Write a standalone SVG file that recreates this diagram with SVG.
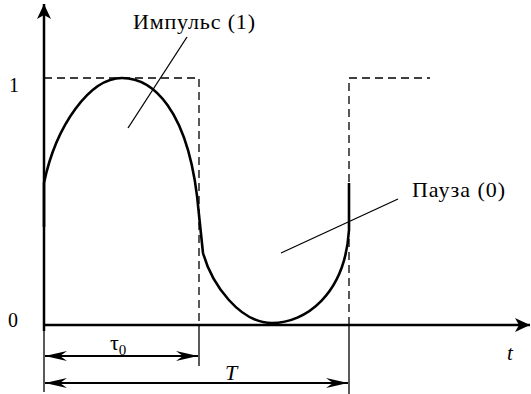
<svg xmlns="http://www.w3.org/2000/svg" width="531" height="394" viewBox="0 0 531 394">
<style>
text{font-family:"Liberation Serif","DejaVu Serif",serif;fill:#000}
.i{font-style:italic}
.axis{stroke:#000;stroke-width:2.5;fill:none}
.thin{stroke:#000;stroke-width:1.3;fill:none}
.dim{stroke:#000;stroke-width:1.8;fill:none}
.dash{stroke:#000;stroke-width:1.3;fill:none;stroke-dasharray:8,5}
.curve{stroke:#000;stroke-width:2.6;fill:none;stroke-linejoin:round}
</style>
<defs>
<marker id="ah" markerUnits="userSpaceOnUse" markerWidth="24" markerHeight="16" viewBox="-16 -8 17 16" refX="0" refY="0" orient="auto">
<path d="M0,0 L-15,-7 L-11,0 L-15,7 Z" fill="#000"/>
</marker>
<marker id="dh" markerUnits="userSpaceOnUse" markerWidth="24" markerHeight="12" viewBox="-23 -6 24 12" refX="0" refY="0" orient="auto-start-reverse">
<path d="M0,0 L-22,-5 L-15,0 L-22,5 Z" fill="#000"/>
</marker>
</defs>
<g id="axes">
<line class="axis" x1="44" y1="331" x2="44" y2="4" marker-end="url(#ah)"/>
<line class="axis" x1="43" y1="325" x2="530" y2="325" marker-end="url(#ah)"/>
</g>
<g id="levels">
<polyline class="dash" points="44,78 199,78 199,325"/>
<polyline class="dash" points="349,325 349,78 430,78"/>
</g>
<g id="signal">
<path class="curve" d="M44,227 L44,183 C56,125 90,78 122,78 C150,78 190,105 199,215 L203,253 C212,285 240,323 272,323 C305,323 345,295 349,230 L349,183"/>
</g>
<g id="connectors">
<line class="thin" x1="187" y1="37" x2="128" y2="128"/>
<line class="thin" x1="281" y1="253" x2="398" y2="199"/>
<line class="thin" x1="44" y1="325" x2="44" y2="392"/>
<line class="thin" x1="199" y1="325" x2="199" y2="366"/>
<line class="thin" x1="349" y1="325" x2="349" y2="394"/>
<line class="dim" x1="45" y1="356" x2="198" y2="356" marker-start="url(#dh)" marker-end="url(#dh)"/>
<line class="dim" x1="45" y1="383" x2="348" y2="383" marker-start="url(#dh)" marker-end="url(#dh)"/>
</g>
<g id="labels">
<text font-family="Liberation Serif, serif" x="9" y="92" font-size="20">1</text>
<text font-family="Liberation Serif, serif" x="8" y="327" font-size="20">0</text>
<text font-family="Liberation Serif, serif" x="133" y="29" font-size="22" textLength="122" lengthAdjust="spacing">Импульс (1)</text>
<text font-family="Liberation Serif, serif" x="412" y="197" font-size="22" textLength="93" lengthAdjust="spacing">Пауза (0)</text>
<text font-family="Liberation Serif, serif" x="110" y="350" font-size="22">τ<tspan font-size="15" dy="5">0</tspan></text>
<text class="i" font-family="Liberation Serif, serif" x="225" y="380" font-size="22">T</text>
<text class="i" font-family="Liberation Serif, serif" x="507" y="360" font-size="21">t</text>
</g>
</svg>
